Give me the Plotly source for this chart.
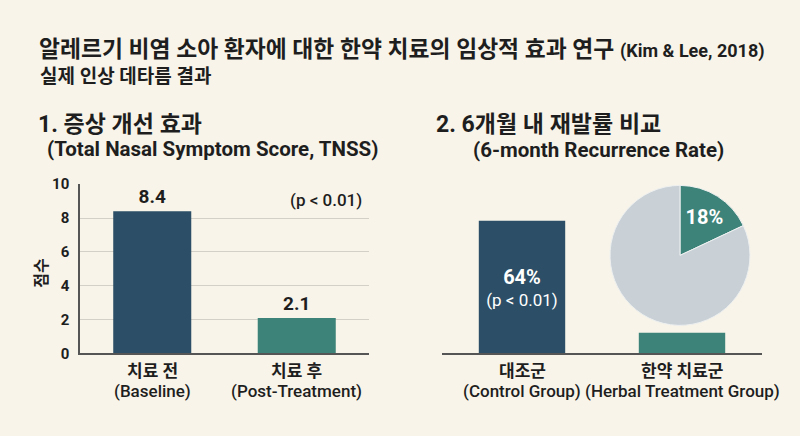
import plotly.graph_objects as go

# ---- data ----
tnss_categories = ["치료 전", "치료 후"]
tnss_subs = ["(Baseline)", "(Post-Treatment)"]
tnss_values = [8.4, 2.1]
tnss_ticks = [0, 2, 4, 6, 8, 10]

rec_categories = ["대조군", "한약 치료군"]
rec_subs = ["(Control Group)", "(Herbal Treatment Group)"]
rec_bar_values = [64, 10]
rec_bar_labels = ["64%", ""]
pie_labels = ["재발", "비재발"]
pie_values = [18, 82]

# ---- style ----
W, H = 800, 436
BG = "#f8f4e9"
NAVY = "#2c4f67"
TEAL = "#3d8379"
GREY = "#c9d1d7"
DARK = "#1e1e1e"
AXIS = "#555555"
FONT = "Roboto, 'Noto Sans CJK KR', sans-serif"


def px(x):
    return x / W


def py(y):
    return 1 - y / H


fig = go.Figure()

fig.add_trace(go.Bar(
    x=tnss_categories, y=tnss_values, xaxis="x", yaxis="y",
    marker=dict(color=[NAVY, TEAL], line=dict(width=0)), width=0.54,
    text=[f"{v}" for v in tnss_values], texttemplate="<b>%{text}</b>",
    textposition="outside", cliponaxis=False,
    textfont=dict(size=19, color=DARK, family=FONT),
    hoverinfo="skip", showlegend=False,
))

fig.add_trace(go.Bar(
    x=rec_categories, y=rec_bar_values, xaxis="x2", yaxis="y2",
    marker=dict(color=[NAVY, TEAL], line=dict(width=0)), width=0.54,
    text=[f"<span style='font-size:20px'><b>{t}</b></span><br>(p < 0.01)" if t else "" for t in rec_bar_labels],
    texttemplate="%{text}",
    textposition="inside", insidetextanchor="middle", constraintext="none",
    textfont=dict(size=17, color="white", family=FONT),
    hoverinfo="skip", showlegend=False,
))

pc_x, pc_y, pr = 680, 257, 73
fig.add_trace(go.Pie(
    labels=pie_labels, values=pie_values, sort=False, direction="clockwise", rotation=0,
    marker=dict(colors=[TEAL, GREY], line=dict(color="#eef0f0", width=1)),
    text=[f"{pie_values[0]}%", ""], textinfo="text", textposition="inside",
    insidetextorientation="horizontal",
    texttemplate=["<b>%{text}</b>", ""],
    textfont=dict(size=20, color="white", family=FONT),
    domain=dict(x=[px(pc_x - pr), px(pc_x + pr)], y=[py(pc_y + pr), py(pc_y - pr)]),
    showlegend=False, hoverinfo="skip",
))

y_dom = [py(359.3), py(182.7)]

fig.update_layout(
    width=W, height=H, margin=dict(l=0, r=0, t=0, b=0),
    paper_bgcolor=BG, plot_bgcolor=BG, font=dict(family=FONT, color=DARK),
    showlegend=False,
    xaxis=dict(domain=[px(80), px(369)], range=[-0.5, 1.5], anchor="y",
               showticklabels=False, showline=True, linecolor=AXIS, linewidth=1.5,
               showgrid=False, zeroline=False, ticks=""),
    yaxis=dict(domain=y_dom, range=[0, 10], anchor="x", tickvals=tnss_ticks,
               showgrid=True, gridcolor="#d3d0c8", gridwidth=1,
               showline=True, linecolor=AXIS, linewidth=1.5, zeroline=False,
               ticks="outside", ticklen=6, tickcolor="rgba(0,0,0,0)",
               tickfont=dict(size=15, color=DARK, family=FONT, weight="bold")),
    xaxis2=dict(domain=[px(442), px(762)], range=[-0.5, 1.5], anchor="y2",
                showticklabels=False, showline=True, linecolor=AXIS, linewidth=1.5,
                showgrid=False, zeroline=False, ticks=""),
    yaxis2=dict(domain=y_dom, range=[0, 81.7], anchor="x2", visible=False,
                showgrid=False, zeroline=False),
)

annotations = []


def ann(text, x, y, size, xanchor="left", xref="paper", bold=True, textangle=0,
        color=DARK, weight=None):
    font = dict(size=size, color=color, family=FONT)
    if weight is not None:
        font["weight"] = weight
    annotations.append(dict(
        text=f"<b>{text}</b>" if bold else text, x=x, y=y, xref=xref, yref="paper",
        xanchor=xanchor, yanchor="middle", showarrow=False, textangle=textangle,
        font=font,
    ))


ann("알레르기 비염 소아 환자에 대한 한약 치료의 임상적 효과 연구 "
    "<span style='font-size:18px'>(Kim & Lee, 2018)</span>", px(37), py(42), 22.8)
ann("실제 인상 데타름 결과", px(38), py(70), 19)
ann("1. 증상 개선 효과", px(36), py(120), 23)
ann("(Total Nasal Symptom Score, TNSS)", px(45), py(146), 20.5)
ann("2. 6개월 내 재발률 비교", px(434), py(120), 23)
ann("(6-month Recurrence Rate)", px(471), py(147), 20.5)

ann("점수", px(42), py(275), 16, xanchor="center", textangle=-90)
ann("(p < 0.01)", px(326), py(199), 17, xanchor="center", bold=False, weight=500)

for c, s in zip(tnss_categories, tnss_subs):
    ann(c, c, py(378), 17, xanchor="center", xref="x")
    ann(s, c, py(398), 17, xanchor="center", xref="x", bold=False, weight=500)
for c, s in zip(rec_categories, rec_subs):
    ann(c, c, py(378), 17, xanchor="center", xref="x2")
    ann(s, c, py(398), 17, xanchor="center", xref="x2", bold=False, weight=500)

fig.update_layout(annotations=annotations)

fig.write_html(
    "out.html",
    config={"displayModeBar": False},
    post_script="document.body.style.margin='0';document.body.style.overflow='hidden';",
)
